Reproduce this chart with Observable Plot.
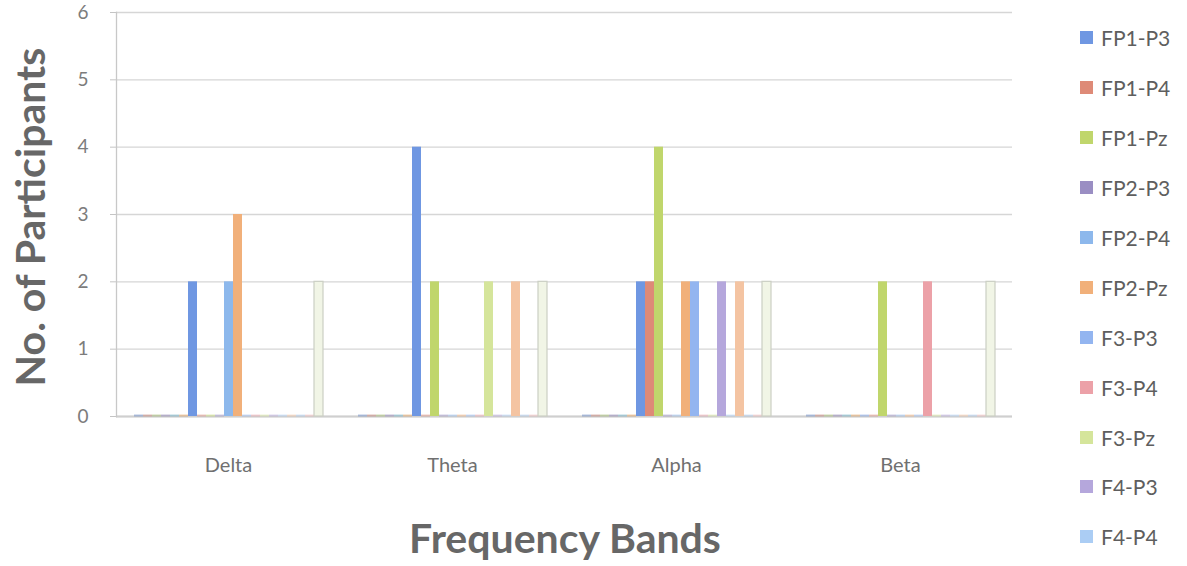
<!DOCTYPE html>
<html>
<head>
<meta charset="utf-8">
<script src="https://cdn.jsdelivr.net/npm/d3@7"></script>
<script src="https://cdn.jsdelivr.net/npm/@observablehq/plot@0.6"></script>
<style>
  html, body { margin: 0; padding: 0; background: #ffffff; }
  #chart { position: relative; width: 1187px; height: 566px; font-family: Lato, "Open Sans", sans-serif; }
  #chart svg { position: absolute; left: 0; top: 0; }
  .axis-title { position: absolute; font-weight: 700; font-size: 41px; color: #676767; white-space: nowrap; line-height: 1; }
  #ytitle { left: 29px; top: 217px; transform: translate(-50%, -50%) rotate(-90deg); }
  #xtitle { left: 565px; top: 537px; transform: translate(-50%, -50%); }
  #legend { position: absolute; left: 1080px; top: 13px; }
  .item { display: flex; align-items: center; height: 49.9px; font-size: 21px; color: #5e5e5e; }
  .swatch { width: 13px; height: 13px; margin-right: 8px; }
</style>
</head>
<body>
<div id="chart">
  <div id="ytitle" class="axis-title">No. of Participants</div>
  <div id="xtitle" class="axis-title">Frequency Bands</div>
  <div id="legend"></div>
</div>
<script>
// Frequency bands on the x axis
const bands = ["Delta", "Theta", "Alpha", "Beta"];

// Electrode pairs, in series order
const channels = [
  "C3-P3", "C3-P4", "C3-Pz", "C4-P3", "C4-P4", "C4-Pz",
  "FP1-P3", "FP1-P4", "FP1-Pz", "FP2-P3", "FP2-P4", "FP2-Pz",
  "F3-P3", "F3-P4", "F3-Pz", "F4-P3", "F4-P4", "F4-Pz",
  "Fz-P3", "Fz-P4", "Fz-Pz"
];

// Number of participants per electrode pair, one array per band
const deltaCounts = [0, 0, 0, 0, 0, 0, 2, 0, 0, 0, 2, 3, 0, 0, 0, 0, 0, 0, 0, 0, 2];
const thetaCounts = [0, 0, 0, 0, 0, 0, 4, 0, 2, 0, 0, 0, 0, 0, 2, 0, 0, 2, 0, 0, 2];
const alphaCounts = [0, 0, 0, 0, 0, 0, 2, 2, 4, 0, 0, 2, 2, 0, 0, 2, 0, 2, 0, 0, 2];
const betaCounts  = [0, 0, 0, 0, 0, 0, 0, 0, 2, 0, 0, 0, 0, 2, 0, 0, 0, 0, 0, 0, 2];

const yTicks = [0, 1, 2, 3, 4, 5, 6];

// Series colours
const palette = [
  "#5b7fc0", "#b86a5e", "#93ad5a", "#7d6ea6", "#5aa3bd", "#e0964e",
  "#6f97e2", "#de8a77", "#c0d66c", "#9a8ec3", "#8db8ec", "#f1b07a",
  "#93b5f0", "#eca1a8", "#d5e59b", "#b5a7dc", "#abcdf4", "#f4c4a2",
  "#a9c8ee", "#f2b9b9", "#f1f5e6"
];

// Legend entries that fit in the chart height
const legendChannels = channels.slice(6, 17);

const countsByBand = [deltaCounts, thetaCounts, alphaCounts, betaCounts];
const rows = bands.flatMap((band, i) =>
  channels.map((channel, j) => ({band, channel, count: countsByBand[i][j]}))
);

const W = 1187, H = 566, mL = 116, mR = 175, mT = 12, mB = 150;
const outerPad = 0.75;
const lastChannel = channels[channels.length - 1];

const chart = Plot.plot({
  width: W,
  height: H,
  marginLeft: mL,
  marginRight: mR,
  marginTop: mT,
  marginBottom: mB,
  style: {fontFamily: "Lato, 'Open Sans', sans-serif", background: "transparent"},
  fx: {domain: bands, padding: 0, label: null},
  x: {domain: channels, paddingInner: 0, paddingOuter: outerPad, axis: null},
  y: {domain: [yTicks[0], yTicks[yTicks.length - 1]], label: null},
  color: {type: "ordinal", domain: channels, range: palette},
  marks: [
    Plot.gridY(yTicks, {stroke: "#d6d6d6", strokeOpacity: 1, strokeWidth: 1.3}),
    Plot.axisY(yTicks, {tickSize: 6, tickPadding: 22, tickFormat: "d", fontSize: 19, fill: "#7c7c7c", stroke: "#c4c4c4", label: null}),
    Plot.axisFx({anchor: "bottom", tickSize: 0, tickPadding: 41, fontSize: 20, fill: "#707070", label: null}),
    Plot.ruleY([0], {stroke: "#cfcfcf", strokeWidth: 2}),
    // left axis line, drawn in the first band only
    Plot.frame({anchor: "left", facetAnchor: "left", stroke: "#c8c8c8", strokeWidth: 1.3}),
    // zero-height columns show as thin slabs on the floor
    Plot.tickY(rows.filter(d => d.count === 0), {
      fx: "band", x: "channel", y: "count", stroke: "channel",
      strokeWidth: 2, strokeOpacity: 0.45, dy: -1
    }),
    Plot.barY(rows, {fx: "band", x: "channel", y: "count", fill: "channel"}),
    Plot.barY(rows.filter(d => d.channel === lastChannel && d.count > 0), {
      fx: "band", x: "channel", y: "count", fill: "none", stroke: "#cbcfc4", strokeWidth: 1.2
    })
  ]
});

const container = document.getElementById("chart");
container.insertBefore(chart, container.firstChild);

const colorOf = d3.scaleOrdinal(channels, palette);
const legend = d3.select("#legend");
const items = legend.selectAll("div.item").data(legendChannels).join("div").attr("class", "item");
items.append("div").attr("class", "swatch").style("background", d => colorOf(d));
items.append("span").text(d => d);
</script>
</body>
</html>
